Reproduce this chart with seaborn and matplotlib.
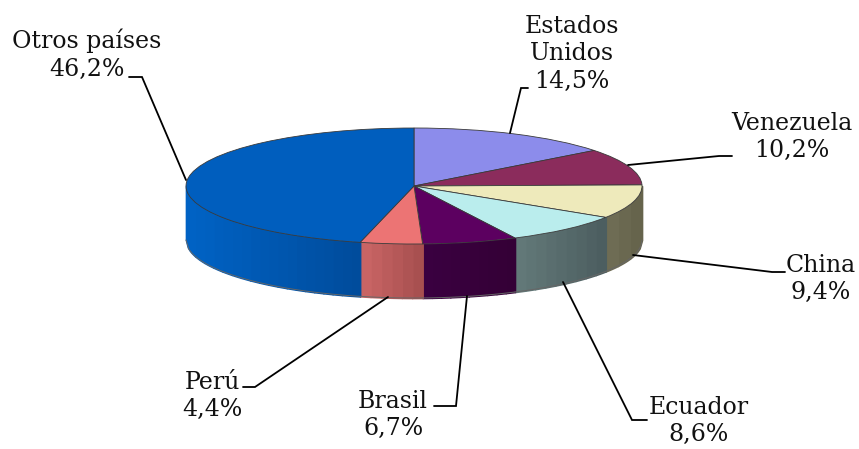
import numpy as np
import matplotlib
matplotlib.use("Agg")
import matplotlib.pyplot as plt
import seaborn as sns

paises = ["Estados\nUnidos", "Venezuela", "China", "Ecuador", "Brasil", "Perú", "Otros países"]
valores = [14.5, 10.2, 9.4, 8.6, 6.7, 4.4, 46.2]
textos = ["14,5%", "10,2%", "9,4%", "8,6%", "6,7%", "4,4%", "46,2%"]
colores = ["#8C8CEB", "#8B2C5C", "#EEEABB", "#BAEDED", "#5C0060", "#EC7474", "#005EBE"]
lateral_izq = ["#6E6E6E", "#6E2248", "#6E6C54", "#627878", "#3A0040", "#C86464", "#0062C4"]
lateral_der = ["#6E6E6E", "#6E2248", "#66644C", "#4C5E60", "#340036", "#A85050", "#004C9C"]

sns.set_theme(style="white")
plt.rcParams['font.family'] = ['DejaVu Serif']

W, H = 859, 449
fig = plt.figure(figsize=(W / 100, H / 100), dpi=100)

# capa en pixeles para textos y lineas
capa = fig.add_axes([0, 0, 1, 1], zorder=3)
capa.set_xlim(0, W)
capa.set_ylim(H, 0)
capa.axis("off")

# la elipse superior ocupa x 186-642, y 128-244
ax = fig.add_axes([186 / W, 1 - 244 / H, 456 / W, 116 / H], zorder=2)
ax.pie(valores, colors=colores, startangle=90, counterclock=False, radius=1,
       wedgeprops={"edgecolor": "#3A3A3A", "linewidth": 0.6})
ax.set_aspect("auto")
ax.set_xlim(-1, 1)
ax.set_ylim(-1, 1)
ax.patch.set_visible(False)

# pared lateral: solo la parte frontal (90 a 270 grados)
alto = 54 / 58
fin = np.cumsum(valores) * 3.6
ini = fin - np.array(valores) * 3.6
for a, b, c1, c2 in zip(ini, fin, lateral_izq, lateral_der):
    a2, b2 = max(a, 90), min(b, 270)
    if b2 <= a2:
        continue
    tramos = max(int((np.sin(np.radians(a2)) - np.sin(np.radians(b2))) * 25), 1)
    bordes = np.linspace(np.sin(np.radians(a2)), np.sin(np.radians(b2)), tramos + 1)
    rgb1, rgb2 = np.array(matplotlib.colors.to_rgb(c1)), np.array(matplotlib.colors.to_rgb(c2))
    for i in range(tramos):
        x = np.linspace(bordes[i], bordes[i + 1], 6)
        y = -np.sqrt(np.clip(1 - x ** 2, 0, 1))
        # de izquierda a derecha en pantalla
        t = i / max(tramos - 1, 1)
        col = rgb2 + (rgb1 - rgb2) * t
        ax.fill_between(x, y, y - alto, color=col, linewidth=1.2, clip_on=False, zorder=0)
    x = np.linspace(bordes[0], bordes[-1], 60)
    y = -np.sqrt(np.clip(1 - x ** 2, 0, 1))
    ax.plot(x, y - alto, color="#666666", lw=0.7, clip_on=False, zorder=1)

# guias de las etiquetas
guias = [
    [(528, 88), (521, 88), (510, 133)],
    [(732, 156), (719, 156), (628, 165)],
    [(785, 272), (772, 272), (633, 255)],
    [(647, 420), (632, 420), (563, 282)],
    [(434, 406), (456, 406), (467, 296)],
    [(243, 387), (255, 387), (388, 297)],
    [(129, 77), (142, 77), (186, 180)],
]
for g in guias:
    xs, ys = zip(*g)
    capa.plot(xs, ys, color="black", lw=1.3, solid_joinstyle="miter")

# centro de cada etiqueta
pos = [(572, 54), (792, 137), (821, 279), (699, 421), (393, 415), (212, 396), (87, 55)]
for nombre, txt, (x, y) in zip(paises, textos, pos):
    capa.text(x, y, nombre + "\n" + txt, ha="center", va="center", fontsize=17,
              color="#111111", linespacing=1.27)

fig.savefig("out.png", dpi=100, facecolor="white")
